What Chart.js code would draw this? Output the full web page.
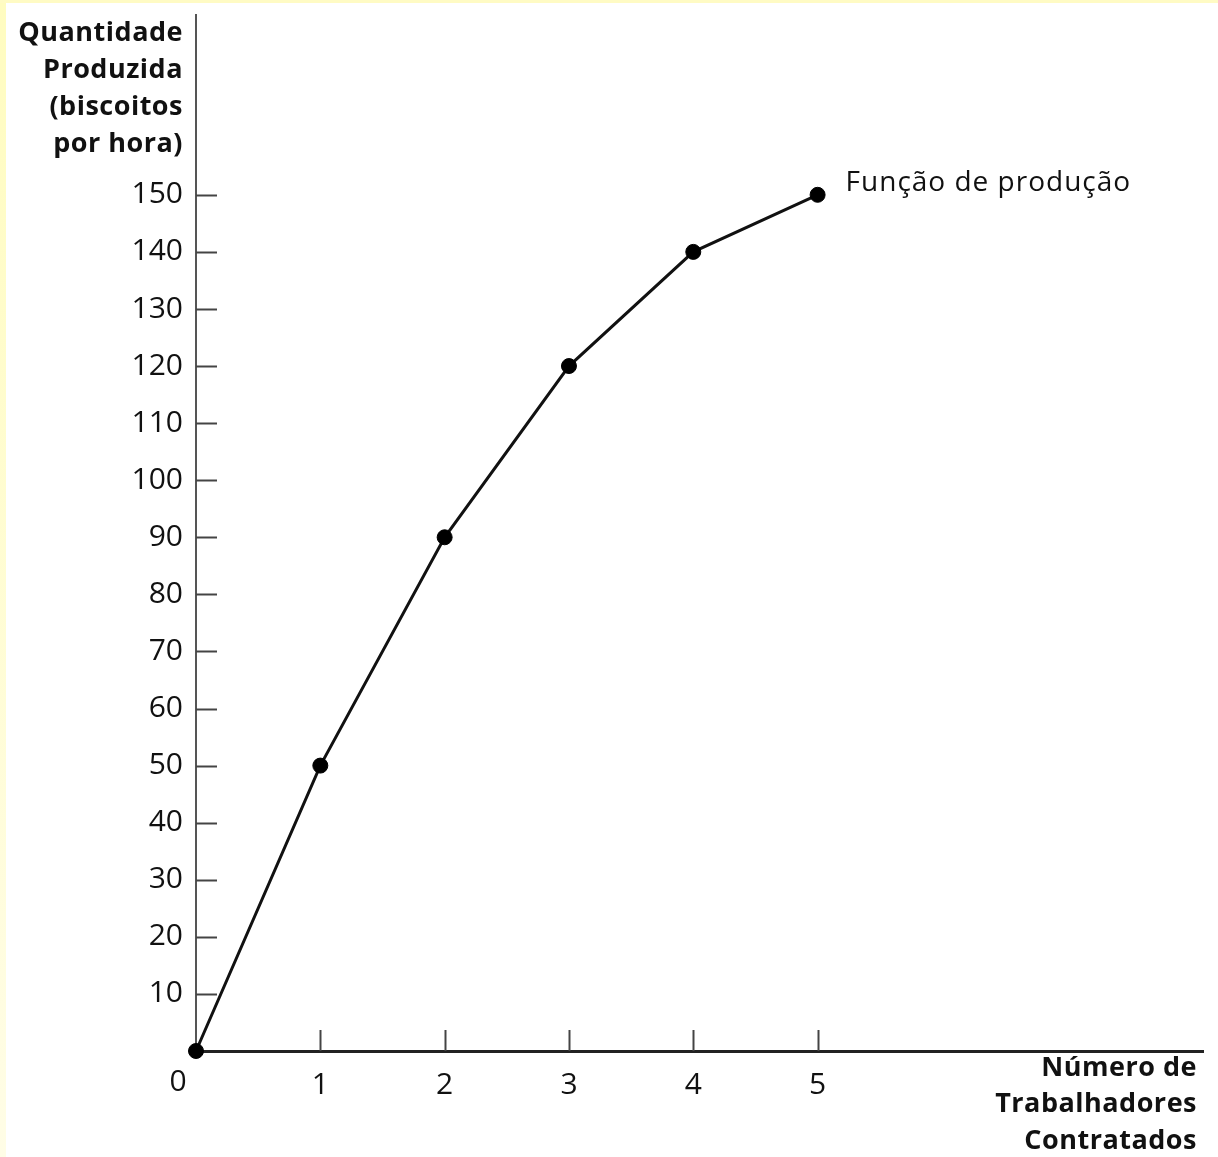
<!DOCTYPE html>
<html>
<head>
<meta charset="utf-8">
<script src="https://cdn.jsdelivr.net/npm/chart.js@4"></script>
<style>
  html, body { margin: 0; padding: 0; background: #ffffff; }
  #wrap { position: relative; width: 1218px; height: 1157px; overflow: hidden; }
  #stripL { position: absolute; left: 0; top: 0; width: 6px; height: 1157px; background: linear-gradient(#fffcc0, #fffde6); }
  #stripT { position: absolute; left: 0; top: 0; width: 1218px; height: 3px; background: #fffbc4; }
</style>
</head>
<body>
<div id="wrap">
  <canvas id="c" width="1218" height="1157"></canvas>
  <div id="stripL"></div>
  <div id="stripT"></div>
</div>
<script>
// ---- data ----
const workers = [0, 1, 2, 3, 4, 5];
const output = [0, 50, 90, 120, 140, 150];
const xTickValues = [0, 1, 2, 3, 4, 5];
const yTickValues = [10, 20, 30, 40, 50, 60, 70, 80, 90, 100, 110, 120, 130, 140, 150];
const yTitleLines = ['Quantidade', 'Produzida', '(biscoitos', 'por hora)'];
const xTitleLines = ['Número de', 'Trabalhadores', 'Contratados'];
const curveLabel = 'Função de produção';

const FONT = "'Open Sans', 'Noto Sans', sans-serif";

const extras = {
  id: 'extras',
  afterDraw(chart) {
    const ctx = chart.ctx;
    const xs = chart.scales.x, ys = chart.scales.y;
    const ca = chart.chartArea;
    ctx.save();
    // inward tick marks
    ctx.strokeStyle = '#444';
    ctx.lineWidth = 2;
    ys.ticks.forEach(t => {
      const py = Math.round(ys.getPixelForValue(t.value)) + 0.5;
      ctx.beginPath();
      ctx.moveTo(ca.left, py);
      ctx.lineTo(ca.left + 21, py);
      ctx.stroke();
    });
    xs.ticks.forEach(t => {
      if (t.value === 0) return;
      const px = Math.round(xs.getPixelForValue(t.value)) + 0.5;
      ctx.beginPath();
      ctx.moveTo(px, ca.bottom);
      ctx.lineTo(px, ca.bottom - 21);
      ctx.stroke();
    });
    // origin label
    ctx.fillStyle = '#111';
    ctx.font = '500 30px ' + FONT;
    ctx.textAlign = 'center';
    ctx.textBaseline = 'middle';
    ctx.fillText('0', xs.getPixelForValue(0) - 18, ca.bottom + 31);
    // y title
    ctx.font = 'bold 27px ' + FONT;
    ctx.textAlign = 'right';
    ctx.letterSpacing = '0.5px';
    yTitleLines.forEach((s, i) => ctx.fillText(s, 183, 33 + i * 37));
    // x title
    xTitleLines.forEach((s, i) => ctx.fillText(s, 1197, 1068 + i * 36.5));
    // curve label
    ctx.font = '28px ' + FONT;
    ctx.letterSpacing = '1px';
    ctx.textAlign = 'left';
    const last = workers.length - 1;
    ctx.fillText(curveLabel, xs.getPixelForValue(workers[last]) + 28, ys.getPixelForValue(output[last]) - 12);
    ctx.restore();
  }
};

new Chart(document.getElementById('c'), {
  type: 'line',
  data: {
    datasets: [{
      data: workers.map((w, i) => ({ x: w, y: output[i] })),
      borderColor: '#111',
      borderWidth: 3,
      backgroundColor: '#000',
      pointBackgroundColor: '#000',
      pointBorderColor: '#000',
      pointRadius: 7.5,
      pointBorderWidth: 1,
      tension: 0,
      clip: false
    }]
  },
  options: {
    responsive: false,
    animation: false,
    events: [],
    layout: { padding: { top: 15, right: 15, left: 0, bottom: 0 } },
    plugins: { legend: { display: false }, tooltip: { enabled: false } },
    scales: {
      x: {
        type: 'linear',
        min: 0,
        max: 8.1,
        afterBuildTicks: s => { s.ticks = xTickValues.map(v => ({ value: v })); },
        afterFit: s => { s.height = 106; s.paddingLeft = 0; s.paddingRight = 0; },
        grid: { display: false, drawTicks: false },
        border: { display: true, color: '#222', width: 3 },
        ticks: {
          padding: 16,
          color: '#111',
          font: { family: FONT, size: 30, weight: '500' },
          callback: v => (v === 0 ? '' : String(v))
        }
      },
      y: {
        type: 'linear',
        min: 0,
        max: 181.5,
        afterBuildTicks: s => { s.ticks = yTickValues.map(v => ({ value: v })); },
        afterFit: s => { s.width = 196; s.paddingTop = 0; s.paddingBottom = 0; },
        grid: { display: false, drawTicks: false },
        border: { display: true, color: '#555', width: 2 },
        ticks: {
          padding: 13,
          color: '#111',
          font: { family: FONT, size: 30, weight: '500' }
        }
      }
    }
  },
  plugins: [extras]
});
</script>
</body>
</html>
